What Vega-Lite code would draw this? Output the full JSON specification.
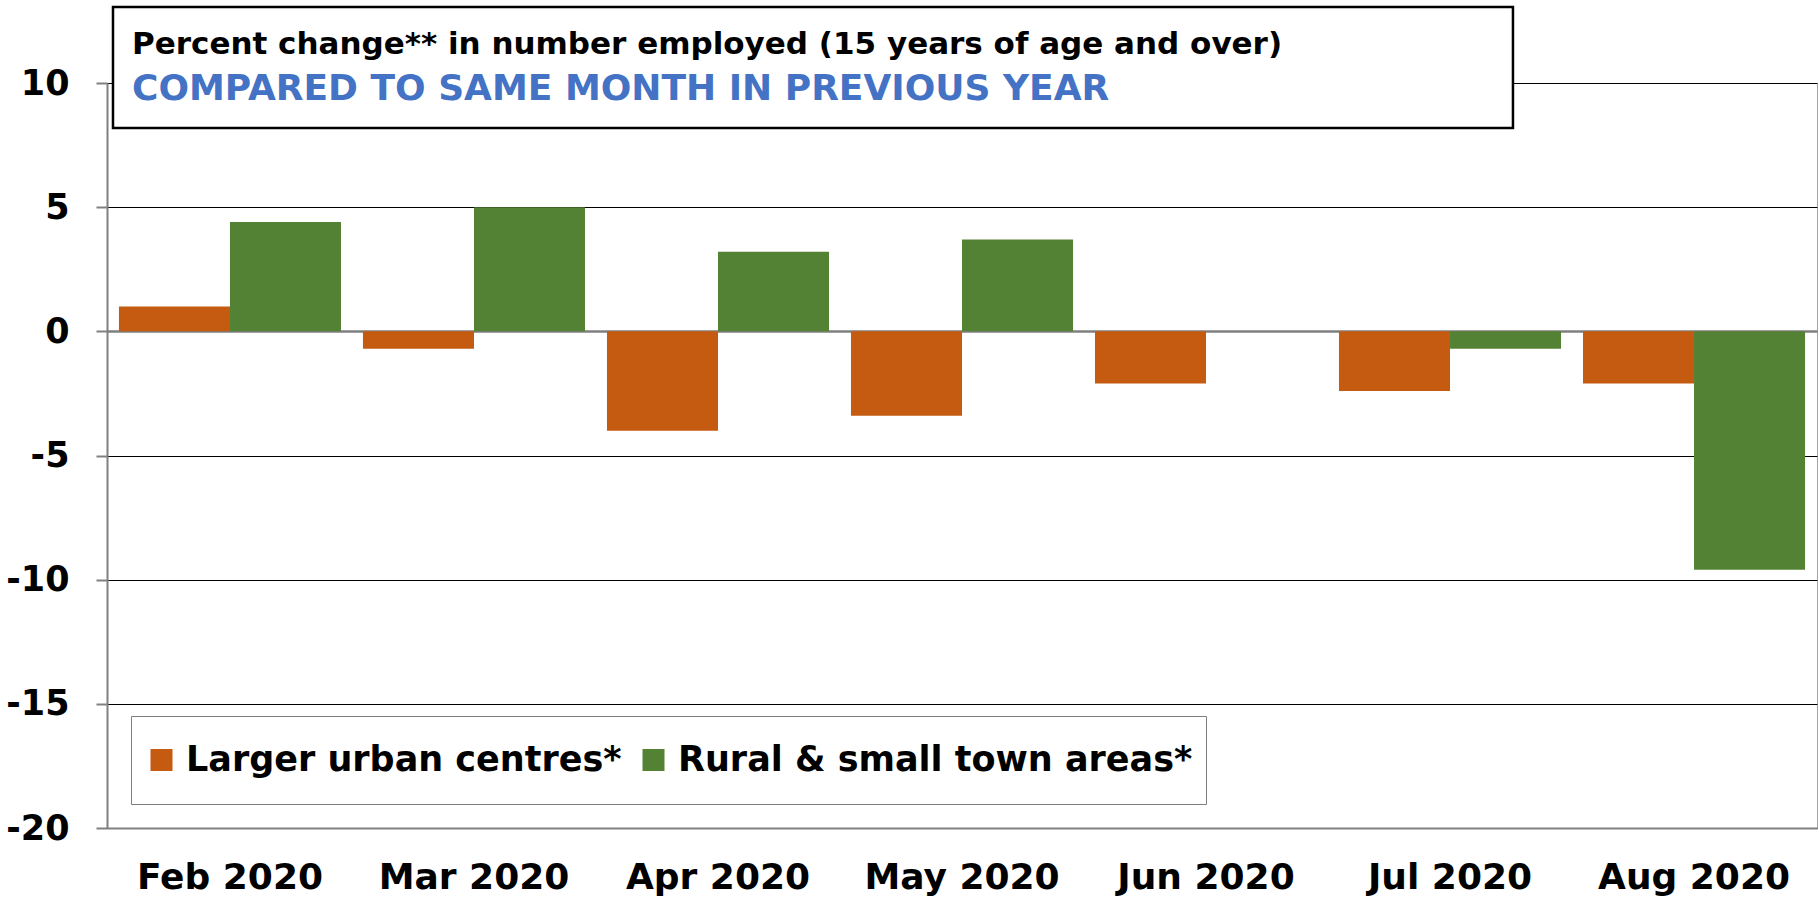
{
  "$schema": "https://vega.github.io/schema/vega-lite/v6.json",
  "width": 1710,
  "height": 745,
  "autosize": {"type": "none"},
  "padding": {"left": 107, "top": 83, "right": 2, "bottom": 72},
  "background": "white",
  "config": {
    "font": "DejaVu Sans",
    "view": {"stroke": "#A6A6A6", "strokeWidth": 1}
  },
  "data": {
    "values": [
      {"month": "Feb 2020", "area": "Larger urban centres*", "value": 1.0},
      {"month": "Feb 2020", "area": "Rural & small town areas*", "value": 4.4},
      {"month": "Mar 2020", "area": "Larger urban centres*", "value": -0.7},
      {"month": "Mar 2020", "area": "Rural & small town areas*", "value": 5.0},
      {"month": "Apr 2020", "area": "Larger urban centres*", "value": -4.0},
      {"month": "Apr 2020", "area": "Rural & small town areas*", "value": 3.2},
      {"month": "May 2020", "area": "Larger urban centres*", "value": -3.4},
      {"month": "May 2020", "area": "Rural & small town areas*", "value": 3.7},
      {"month": "Jun 2020", "area": "Larger urban centres*", "value": -2.1},
      {"month": "Jun 2020", "area": "Rural & small town areas*", "value": 0.0},
      {"month": "Jul 2020", "area": "Larger urban centres*", "value": -2.4},
      {"month": "Jul 2020", "area": "Rural & small town areas*", "value": -0.7},
      {"month": "Aug 2020", "area": "Larger urban centres*", "value": -2.1},
      {"month": "Aug 2020", "area": "Rural & small town areas*", "value": -9.6}
    ]
  },
  "resolve": {"scale": {"x": "independent"}},
  "layer": [
    {
      "mark": {"type": "bar"},
      "encoding": {
        "x": {
          "field": "month",
          "type": "nominal",
          "sort": ["Feb 2020", "Mar 2020", "Apr 2020", "May 2020", "Jun 2020", "Jul 2020", "Aug 2020"],
          "scale": {"paddingInner": 0.09, "paddingOuter": 0.049},
          "axis": {
            "title": null,
            "labelAngle": 0,
            "ticks": false,
            "tickSize": 0,
            "labelPadding": 32,
            "labelFontSize": 36,
            "labelFontWeight": "bold",
            "labelColor": "#000000",
            "labelLimit": 0,
            "domainColor": "#808080",
            "domainWidth": 2,
            "grid": false
          }
        },
        "xOffset": {
          "field": "area",
          "type": "nominal",
          "sort": ["Larger urban centres*", "Rural & small town areas*"],
          "scale": {"paddingInner": 0, "paddingOuter": 0}
        },
        "y": {
          "field": "value",
          "type": "quantitative",
          "scale": {"domain": [-20, 10], "nice": false, "zero": false},
          "axis": {
            "title": null,
            "values": [-20, -15, -10, -5, 0, 5, 10],
            "labelExpr": "'' + datum.value",
            "labelFontSize": 35,
            "labelFontWeight": "bold",
            "labelColor": "#000000",
            "labelPadding": 27,
            "tickSize": 11,
            "tickColor": "#808080",
            "tickWidth": 2,
            "domainColor": "#808080",
            "domainWidth": 2,
            "grid": true,
            "gridColor": {"condition": {"test": "datum.value === 0", "value": "#7F7F7F"}, "value": "#000000"},
            "gridWidth": {"condition": {"test": "datum.value === 0", "value": 2.5}, "value": 1}
          }
        },
        "color": {
          "field": "area",
          "type": "nominal",
          "scale": {
            "domain": ["Larger urban centres*", "Rural & small town areas*"],
            "range": ["#C55A11", "#548235"]
          },
          "legend": {
            "title": null,
            "orient": "bottom-left",
            "direction": "horizontal",
            "offset": 24,
            "symbolType": "square",
            "symbolSize": 484,
            "symbolStrokeWidth": 0,
            "labelFont": "DejaVu Sans",
            "labelFontWeight": "bold",
            "labelFontSize": 35,
            "labelColor": "#000000",
            "labelLimit": 0,
            "labelOffset": 7,
            "columnPadding": 14,
            "padding": 13,
            "clipHeight": 62,
            "strokeColor": "#7F7F7F",
            "fillColor": "white"
          }
        }
      }
    },
    {
      "data": {"values": [{"box": "title"}]},
      "mark": {"type": "rect", "fill": "white", "stroke": "#000000", "strokeWidth": 2.5},
      "encoding": {
        "x": {"datum": 0.0035, "type": "quantitative", "scale": {"domain": [0, 1]}, "axis": null},
        "x2": {"datum": 0.8222},
        "y": {"datum": 13.06, "type": "quantitative", "scale": {"domain": [-20, 10], "nice": false, "zero": false}},
        "y2": {"datum": 8.19}
      }
    },
    {
      "data": {"values": [{"line": "Percent change** in number employed (15 years of age and over)"}]},
      "mark": {"type": "text", "align": "left", "baseline": "alphabetic", "font": "DejaVu Sans", "fontWeight": "bold", "fontSize": 31, "color": "#000000"},
      "encoding": {
        "x": {"datum": 0.0146, "type": "quantitative", "scale": {"domain": [0, 1]}, "axis": null},
        "y": {"datum": 11.15, "type": "quantitative", "scale": {"domain": [-20, 10], "nice": false, "zero": false}},
        "text": {"field": "line"}
      }
    },
    {
      "data": {"values": [{"line": "COMPARED TO SAME MONTH IN PREVIOUS YEAR"}]},
      "mark": {"type": "text", "align": "left", "baseline": "alphabetic", "font": "DejaVu Sans", "fontWeight": "bold", "fontSize": 36, "color": "#4472C4"},
      "encoding": {
        "x": {"datum": 0.0146, "type": "quantitative", "scale": {"domain": [0, 1]}, "axis": null},
        "y": {"datum": 9.3, "type": "quantitative", "scale": {"domain": [-20, 10], "nice": false, "zero": false}},
        "text": {"field": "line"}
      }
    }
  ]
}
